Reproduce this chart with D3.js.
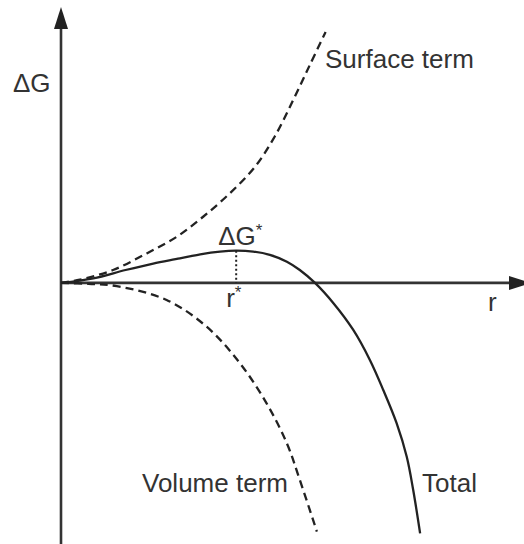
<!DOCTYPE html>
<html>
<head>
<meta charset="utf-8">
<script src="https://cdn.jsdelivr.net/npm/d3@7"></script>
<style>
  body { margin: 0; background: #fff; }
  svg { display: block; }
  text { font-family: "Liberation Sans", Arial, sans-serif; fill: #333; }
</style>
</head>
<body>
<div id="chart"></div>
<script>
// values (arbitrary units)
var surfaceR = [0, 0.41, 1.13, 1.86, 2.51, 3.09, 3.67, 4.21, 4.64, 5.04, 5.40, 5.74];
var surfaceG = [0, 0.07, 0.28, 0.64, 1.00, 1.44, 1.95, 2.52, 3.18, 3.97, 4.73, 5.44];

var volumeR = [0, 0.60, 1.21, 2.29, 3.16, 3.88, 4.46, 4.90, 5.18, 5.55];
var volumeG = [0, -0.02, -0.07, -0.37, -0.95, -1.74, -2.61, -3.48, -4.27, -5.39];

var totalR = [0, 0.70, 1.40, 2.00, 2.58, 3.02, 3.45, 3.80, 4.17, 4.53, 4.90, 5.18, 5.51, 5.91, 6.34, 6.70, 6.99, 7.28, 7.50, 7.64, 7.79];
var totalG = [0, 0.10, 0.28, 0.42, 0.53, 0.62, 0.68, 0.70, 0.68, 0.61, 0.46, 0.28, 0, -0.44, -1.02, -1.67, -2.32, -3.04, -3.77, -4.49, -5.43];

var rStar = 3.80;
var gStar = 0.70;

var width = 524, height = 544;

var svg = d3.select("#chart").append("svg")
    .attr("width", width)
    .attr("height", height);

var x = d3.scaleLinear().domain([0, 10]).range([61, 522]);
var y = d3.scaleLinear().domain([-5.66, 5.96]).range([544, 8]);

function zip(rs, gs) {
    return rs.map(function(r, i) { return {r: r, g: gs[i]}; });
}

var line = d3.line()
    .x(function(d) { return x(d.r); })
    .y(function(d) { return y(d.g); })
    .curve(d3.curveCatmullRom.alpha(0.5));

// axes
var x0 = x(0), y0 = y(0);
svg.append("line")
    .attr("x1", x0).attr("y1", height).attr("x2", x0).attr("y2", 24)
    .attr("stroke", "#333").attr("stroke-width", 2.6);
svg.append("path")
    .attr("d", "M" + x0 + ",7 L" + (x0 - 7) + ",29 L" + (x0 + 7) + ",29 Z")
    .attr("fill", "#222");

svg.append("line")
    .attr("x1", x0).attr("y1", y0).attr("x2", 512).attr("y2", y0)
    .attr("stroke", "#333").attr("stroke-width", 2.6);
svg.append("path")
    .attr("d", "M531," + y0 + " L509," + (y0 - 7) + " L509," + (y0 + 7) + " Z")
    .attr("fill", "#222");

// curves
svg.append("path")
    .datum(zip(surfaceR, surfaceG))
    .attr("d", line)
    .attr("fill", "none")
    .attr("stroke", "#222")
    .attr("stroke-width", 2.3)
    .attr("stroke-dasharray", "8,5");

svg.append("path")
    .datum(zip(volumeR, volumeG))
    .attr("d", line)
    .attr("fill", "none")
    .attr("stroke", "#222")
    .attr("stroke-width", 2.3)
    .attr("stroke-dasharray", "8,5");

svg.append("path")
    .datum(zip(totalR, totalG))
    .attr("d", line)
    .attr("fill", "none")
    .attr("stroke", "#222")
    .attr("stroke-width", 2.3);

// r* marker
svg.append("line")
    .attr("x1", x(rStar)).attr("y1", y(gStar))
    .attr("x2", x(rStar)).attr("y2", y0)
    .attr("stroke", "#222")
    .attr("stroke-width", 2)
    .attr("stroke-dasharray", "2,2.5");

// labels
svg.append("text").attr("x", 13).attr("y", 92).attr("font-size", 26).text("ΔG");
svg.append("text").attr("x", 488).attr("y", 311).attr("font-size", 26).text("r");

svg.append("text").attr("x", 325).attr("y", 68).attr("font-size", 26).text("Surface term");
svg.append("text").attr("x", 142).attr("y", 492).attr("font-size", 26).text("Volume term");
svg.append("text").attr("x", 422).attr("y", 492).attr("font-size", 26).text("Total");

var gs = svg.append("text").attr("x", x(rStar) - 18).attr("y", 245).attr("font-size", 26);
gs.append("tspan").text("ΔG");
gs.append("tspan").attr("font-size", 17).attr("dy", -9).text("*");

var rs = svg.append("text").attr("x", x(rStar) - 10).attr("y", 307).attr("font-size", 26);
rs.append("tspan").text("r");
rs.append("tspan").attr("font-size", 17).attr("dy", -9).text("*");
</script>
</body>
</html>
